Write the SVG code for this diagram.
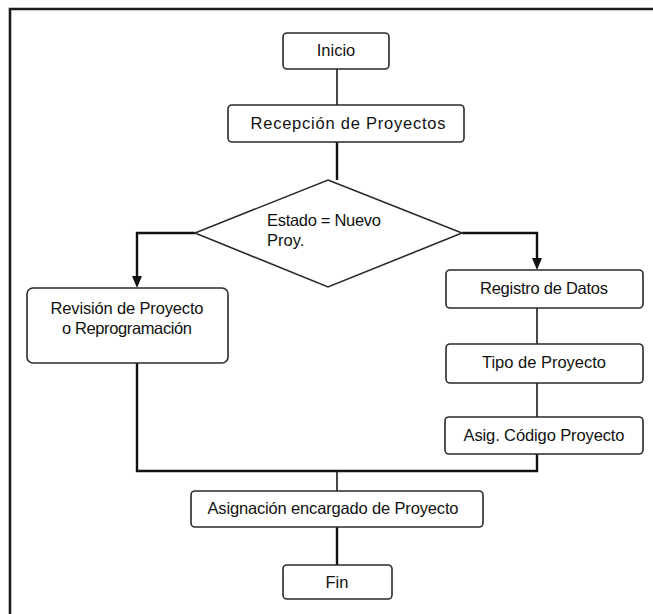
<svg xmlns="http://www.w3.org/2000/svg" width="653" height="614" viewBox="0 0 653 614">
  <style>
    .box { fill: #ffffff; stroke: #2a2a2a; stroke-width: 1.6; }
    .lbl { font-family: "Liberation Sans", Arial, sans-serif; font-size: 16.5px; fill: #111; text-anchor: middle; }
    .lbl-l { font-family: "Liberation Sans", Arial, sans-serif; font-size: 16.5px; fill: #111; }
    .wire { fill: none; stroke: #1a1a1a; stroke-width: 1.6; }
    .wire-b { fill: none; stroke: #111; stroke-width: 2.4; }
    .frame { fill: none; stroke: #1c1c1c; stroke-width: 2.6; }
  </style>

  <rect width="653" height="614" fill="#ffffff"/>

  <!-- outer frame (top and left edges) -->
  <polyline class="frame" points="10,614 10,9 653,9"/>

  <!-- connectors -->
  <g id="connectors">
    <line class="wire" x1="337" y1="69" x2="337" y2="105"/>
    <line class="wire-b" x1="337" y1="142" x2="337" y2="180"/>
    <polyline class="wire-b" points="195,233 137,233 137,276"/>
    <path d="M132,276 L142,276 L137,288 Z" fill="#111"/>
    <polyline class="wire-b" points="462,233 537,233 537,258"/>
    <path d="M532,258 L542,258 L537,270 Z" fill="#111"/>
    <line class="wire" x1="537" y1="308" x2="537" y2="344"/>
    <line class="wire" x1="537" y1="383" x2="537" y2="417"/>
    <polyline class="wire-b" points="137,363 137,471 537,471 537,454"/>
    <line class="wire" x1="337" y1="471" x2="337" y2="491"/>
    <line class="wire-b" x1="337" y1="527" x2="337" y2="565"/>
  </g>

  <g id="inicio">
    <rect class="box" x="283" y="33" width="106" height="36" rx="4"/>
    <text class="lbl" x="336" y="56">Inicio</text>
  </g>

  <g id="recepcion">
    <rect class="box" x="228" y="105" width="236" height="37" rx="4"/>
    <text class="lbl" x="348" y="129" textLength="195" lengthAdjust="spacing">Recepción de Proyectos</text>
  </g>

  <g id="estado">
    <polygon class="box" points="328,180 462,233 328,287 195,233"/>
    <text class="lbl-l" x="267" y="226" textLength="114" lengthAdjust="spacing">Estado = Nuevo</text>
    <text class="lbl-l" x="267" y="246">Proy.</text>
  </g>

  <g id="revision">
    <rect class="box" x="27" y="288" width="201" height="75" rx="6"/>
    <text class="lbl" x="127" y="314" textLength="153" lengthAdjust="spacing">Revisión de Proyecto</text>
    <text class="lbl" x="127" y="334" textLength="130" lengthAdjust="spacing">o Reprogramación</text>
  </g>

  <g id="registro">
    <rect class="box" x="446" y="270" width="197" height="38" rx="4"/>
    <text class="lbl" x="544" y="294" textLength="128" lengthAdjust="spacing">Registro de Datos</text>
  </g>

  <g id="tipo">
    <rect class="box" x="446" y="344" width="197" height="39" rx="4"/>
    <text class="lbl" x="544" y="368" textLength="124" lengthAdjust="spacing">Tipo de Proyecto</text>
  </g>

  <g id="codigo">
    <rect class="box" x="445" y="417" width="198" height="37" rx="4"/>
    <text class="lbl" x="544" y="441" textLength="161" lengthAdjust="spacing">Asig. Código Proyecto</text>
  </g>

  <g id="asignacion">
    <rect class="box" x="191" y="491" width="292" height="36" rx="4"/>
    <text class="lbl" x="333" y="514" textLength="251" lengthAdjust="spacing">Asignación encargado de Proyecto</text>
  </g>

  <g id="fin">
    <rect class="box" x="283" y="565" width="109" height="34" rx="4"/>
    <text class="lbl" x="337" y="588">Fin</text>
  </g>
</svg>
